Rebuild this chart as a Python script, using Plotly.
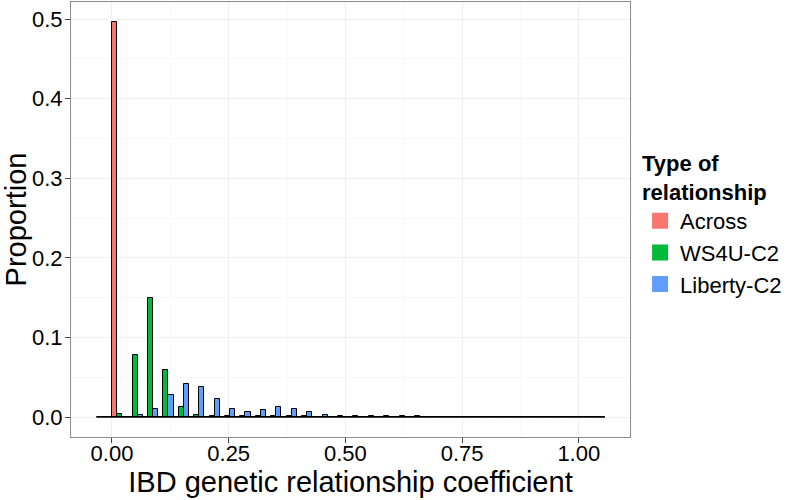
import plotly.graph_objects as go

# Histogram bin centers (IBD coefficient), width ~0.033
bin_centers = [-0.0165, 0.0165, 0.0495, 0.0825, 0.1155, 0.1485, 0.1815, 0.2145, 0.2475,
               0.2805, 0.3135, 0.3465, 0.3795, 0.4125, 0.4455, 0.4785, 0.5115, 0.5445,
               0.5775, 0.6105, 0.6435, 0.6765, 0.7095, 0.7425, 0.7755, 0.8085, 0.8415,
               0.8745, 0.9075, 0.9405, 0.9735, 1.0065, 1.0395]
bin_width = 0.033

across = [0, 0.496, 0, 0, 0, 0, 0, 0, 0, 0, 0, 0, 0, 0, 0, 0, 0, 0, 0, 0, 0, 0, 0,
          0, 0, 0, 0, 0, 0, 0, 0, 0, 0]
ws4u_c2 = [0, 0.0035, 0.0775, 0.1495, 0.0587, 0.0122, 0.003, 0.0012, 0.001, 0.001, 0.001,
           0.001, 0.001, 0.0008, 0.0005, 0, 0, 0, 0, 0, 0, 0, 0, 0, 0, 0, 0, 0, 0, 0, 0, 0, 0]
liberty_c2 = [0, 0, 0.003, 0.0105, 0.0276, 0.0419, 0.0377, 0.0222, 0.0097, 0.0059, 0.0084,
              0.0122, 0.0097, 0.0059, 0.002, 0.0012, 0.0008, 0.0008, 0.0008, 0.0008, 0.0008,
              0, 0, 0, 0, 0, 0, 0, 0, 0, 0, 0, 0]

series_names = ["Across", "WS4U-C2", "Liberty-C2"]
series_values = [across, ws4u_c2, liberty_c2]
series_colors = ["#F8766D", "#00BA38", "#619CFF"]

x_ticks = [0.0, 0.25, 0.5, 0.75, 1.0]
x_tick_labels = ["0.00", "0.25", "0.50", "0.75", "1.00"]
y_ticks = [0.0, 0.1, 0.2, 0.3, 0.4, 0.5]
y_tick_labels = ["0.0", "0.1", "0.2", "0.3", "0.4", "0.5"]

FONT = "Arial, Liberation Sans, sans-serif"

fig = go.Figure()
for name, vals, col in zip(series_names, series_values, series_colors):
    fig.add_trace(go.Bar(
        x=bin_centers, y=vals, name=name, showlegend=False,
        marker=dict(color=col, line=dict(color="black", width=1)),
    ))

# baseline outline of the histogram (zero-height bins)
fig.add_trace(go.Scatter(
    x=[bin_centers[0] - bin_width / 2, bin_centers[-1] + bin_width / 2], y=[0, 0],
    mode="lines", line=dict(color="black", width=1.5), showlegend=False, hoverinfo="skip",
))

# legend keys
for name, col in zip(series_names, series_colors):
    fig.add_trace(go.Scatter(
        x=[None], y=[None], mode="markers", name=name,
        marker=dict(symbol="square", size=30, color=col, line=dict(width=0)),
    ))

fig.update_layout(
    width=789, height=500,
    margin=dict(l=71, r=159, t=2, b=63),
    paper_bgcolor="white", plot_bgcolor="white",
    barmode="group", bargap=0, bargroupgap=0,
    font=dict(family=FONT, color="black", size=22),
    legend=dict(
        title=dict(text="<b>Type of<br>relationship</b>", font=dict(size=22)),
        font=dict(size=22), x=1.018, xanchor="left", y=0.49, yanchor="middle",
        tracegroupgap=0, bgcolor="rgba(0,0,0,0)", borderwidth=0,
    ),
    xaxis=dict(
        range=[-0.0878, 1.1097], tickvals=x_ticks, ticktext=x_tick_labels,
        showgrid=True, gridcolor="#efefef", gridwidth=1, zeroline=False,
        minor=dict(dtick=0.125, tick0=0.125, showgrid=True, gridcolor="#f8f8f8", ticks=""),
        ticks="outside", ticklen=5, tickcolor="#444", tickfont=dict(size=22, color="black"),
        ticklabelstandoff=-8,
        showline=True, mirror=True, linecolor="#8c8c8c", linewidth=1,
        title=dict(text="IBD genetic relationship coefficient", font=dict(size=29), standoff=5),
    ),
    yaxis=dict(
        range=[-0.0251, 0.5214], tickvals=y_ticks, ticktext=y_tick_labels,
        showgrid=True, gridcolor="#efefef", gridwidth=1, zeroline=False,
        minor=dict(dtick=0.05, tick0=0.05, showgrid=True, gridcolor="#f8f8f8", ticks=""),
        ticks="outside", ticklen=5, tickcolor="#444", tickfont=dict(size=22, color="black"),
        ticklabelstandoff=-2,
        showline=True, mirror=True, linecolor="#8c8c8c", linewidth=1,
        title=dict(text="Proportion", font=dict(size=29), standoff=3),
    ),
)

fig.write_html("out.html", config={"displayModeBar": False},
               post_script="document.body.style.margin='0px';")
